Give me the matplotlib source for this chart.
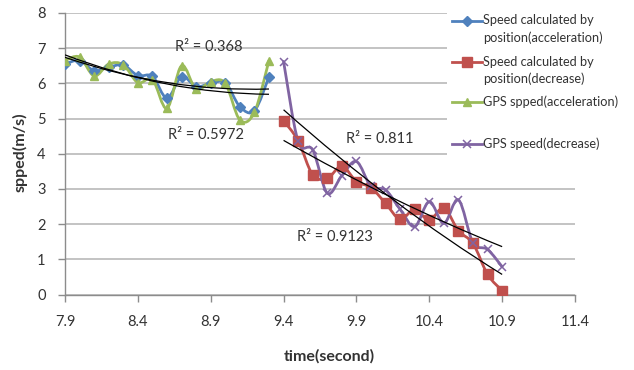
import numpy as np
import matplotlib
matplotlib.use("Agg")
import matplotlib.pyplot as plt
from matplotlib.path import Path
from matplotlib.patches import PathPatch, Rectangle
from matplotlib.lines import Line2D

plt.rcParams['font.family'] = ['Lato', 'DejaVu Sans']

# ---------------- data ----------------
time_acc = [7.9, 8.0, 8.1, 8.2, 8.3, 8.4, 8.5, 8.6, 8.7, 8.8, 8.9, 9.0, 9.1, 9.2, 9.3]
calc_acc = [6.55, 6.65, 6.36, 6.46, 6.52, 6.22, 6.20, 5.58, 6.19, 5.91, 6.00, 6.02, 5.34, 5.22, 6.19]
gps_acc = [6.65, 6.75, 6.21, 6.55, 6.53, 6.02, 6.11, 5.29, 6.50, 5.83, 6.05, 6.00, 4.96, 5.18, 6.65]

time_dec = [9.4, 9.5, 9.6, 9.7, 9.8, 9.9, 10.0, 10.1, 10.2, 10.3, 10.4, 10.5, 10.6, 10.7, 10.8, 10.9]
calc_dec = [4.94, 4.37, 3.40, 3.30, 3.65, 3.21, 3.04, 2.59, 2.14, 2.42, 2.11, 2.46, 1.81, 1.45, 0.57, 0.11]
gps_dec = [6.62, 4.35, 4.11, 2.88, 3.38, 3.78, 3.07, 2.97, 2.42, 1.93, 2.64, 2.02, 2.69, 1.47, 1.28, 0.79]

# trendlines (start, middle, end)
trend_x_acc = [7.9, 8.6, 9.3]
trend_acc_a = [6.81, 5.98, 5.69]
trend_acc_b = [6.74, 6.02, 5.84]
trend_x_dec = [9.4, 10.15, 10.9]
trend_dec_a = [5.25, 2.70, 0.57]
trend_dec_b = [4.38, 2.74, 1.36]

r2_labels = ["R² = 0.368", "R² = 0.5972", "R² = 0.811", "R² = 0.9123"]
r2_x = [8.888, 8.868, 10.06, 9.75]
r2_y = [7.02, 4.54, 4.42, 1.62]

x_ticks = [7.9, 8.4, 8.9, 9.4, 9.9, 10.4, 10.9, 11.4]
y_ticks = [0, 1, 2, 3, 4, 5, 6, 7, 8]

series_names = ["Speed calculated by\nposition(acceleration)",
                "Speed calculated by\nposition(decrease)",
                "GPS spped(acceleration)",
                "GPS speed(decrease)"]

BLUE = "#4F81BD"
RED = "#C0504D"
GREEN = "#9BBB59"
PURPLE = "#8064A2"
TXT = "#333333"
GRID = "#B3B3B3"
AX = "#8C8C8C"

W, H = 634, 370
fig = plt.figure(figsize=(W / 100, H / 100), dpi=100)
ax = fig.add_axes([65 / W, 1 - 294.5 / H, (575 - 65) / W, (294.5 - 13) / H])


def smooth_path(xs, ys):
    pts = np.column_stack([xs, ys]).astype(float)
    n = len(pts)
    verts = [pts[0]]
    codes = [Path.MOVETO]
    for i in range(n - 1):
        p0 = pts[i - 1] if i > 0 else pts[i]
        p1 = pts[i]
        p2 = pts[i + 1]
        p3 = pts[i + 2] if i + 2 < n else pts[i + 1]
        verts += [p1 + (p2 - p0) / 6.0, p2 - (p3 - p1) / 6.0, p2]
        codes += [Path.CURVE4] * 3
    return Path(verts, codes)


def quad_path(xs, ys):
    p0 = np.array([xs[0], ys[0]])
    pm = np.array([xs[1], ys[1]])
    p2 = np.array([xs[2], ys[2]])
    c = 2 * pm - (p0 + p2) / 2
    return Path([p0, c, p2], [Path.MOVETO, Path.CURVE3, Path.CURVE3])


styles = [
    (time_acc, calc_acc, BLUE, dict(marker="D", ms=4.8)),
    (time_dec, calc_dec, RED, dict(marker="s", ms=6.5)),
    (time_acc, gps_acc, GREEN, dict(marker="^", ms=5.5)),
    (time_dec, gps_dec, PURPLE, dict(marker="x", ms=5.5, mew=1.1)),
]

for xs, ys, col, mk in styles:
    ax.add_patch(PathPatch(smooth_path(xs, ys), fill=False, edgecolor=col, lw=2.0,
                           zorder=3, capstyle="round", joinstyle="round"))
    ax.plot(xs, ys, linestyle="none", color=col, mec=col, mfc=col, zorder=4, **mk)

for tx, ty in [(trend_x_acc, trend_acc_a), (trend_x_acc, trend_acc_b),
               (trend_x_dec, trend_dec_a), (trend_x_dec, trend_dec_b)]:
    ax.add_patch(PathPatch(quad_path(tx, ty), fill=False, edgecolor="black", lw=0.9, zorder=5))

for lab, lx, ly in zip(r2_labels, r2_x, r2_y):
    ax.text(lx, ly, lab, ha="center", va="center", fontsize=10.5, color=TXT, zorder=6)

ax.set_xlim(7.9, 11.4)
ax.set_ylim(0, 8)
ax.set_xticks(x_ticks)
ax.set_xticklabels([f"{v:g}" for v in x_ticks])
ax.set_yticks(y_ticks)
ax.yaxis.grid(True, color=GRID, lw=1.1)
ax.set_axisbelow(True)
for s in ["top", "right"]:
    ax.spines[s].set_visible(False)
for s in ["left", "bottom"]:
    ax.spines[s].set_color(AX)
    ax.spines[s].set_linewidth(1.0)
ax.tick_params(axis="both", colors=AX, labelcolor=TXT, labelsize=10.5, length=5, width=1.0, direction="out")
ax.tick_params(axis="x", pad=10)
ax.tick_params(axis="y", pad=9)

fig.text(329 / W, 1 - 356 / H, "time(second)", ha="center", va="center",
         fontsize=11.5, fontweight="bold", color=TXT)
fig.text(20 / W, 1 - 152 / H, "spped(m/s)", ha="center", va="center", rotation=90,
         fontsize=11.5, fontweight="bold", color=TXT)

# legend box (covers gridlines on the right upper region)
fig.add_artist(Rectangle((447 / W, 1 - 160 / H), (W - 447) / W, 160 / H,
                         transform=fig.transFigure, facecolor="white", edgecolor="none", zorder=5))
leg_rows = [20.5, 61.5, 102, 144]
for (xs, ys, col, mk), name, py in zip(styles, series_names, leg_rows):
    fig.add_artist(Line2D([452 / W, 482 / W], [1 - py / H] * 2, transform=fig.transFigure,
                          color=col, lw=2.0, zorder=6))
    fig.add_artist(Line2D([467 / W], [1 - py / H], transform=fig.transFigure, linestyle="none",
                          color=col, mec=col, mfc=col, zorder=7, **mk))
    for k, line in enumerate(name.split("\n")):
        fig.text(483 / W, 1 - (py + 17 * k) / H, line, ha="left", va="center",
                 fontsize=9.2, color=TXT, zorder=7)

fig.savefig("out.png", dpi=100)
